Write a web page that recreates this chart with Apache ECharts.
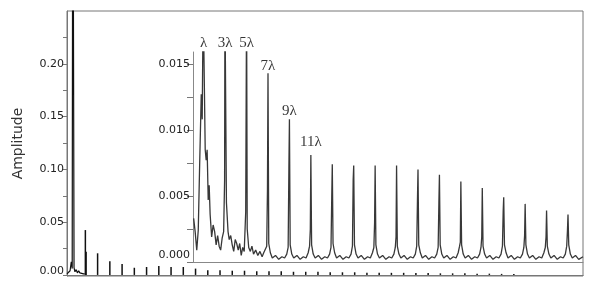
<!DOCTYPE html>
<html><head><meta charset="utf-8">
<script src="https://cdn.jsdelivr.net/npm/echarts@6/dist/echarts.min.js"></script>
<style>html,body{margin:0;padding:0;background:#fff}#c{width:594px;height:294px}</style>
</head><body><div id="c"></div>
<script>
// Main spectrum: x in harmonic order units (multiples of lambda), y amplitude
const mainLow = [[0,0.001],[0.3,0.002],[0.5,0.004],[0.7,0.0125],[0.85,0.006],[0.95,0.5],[1.05,0.5],[1.15,0.007],[1.3,0.003],[1.5,0.005],[1.7,0.002],[1.9,0.004],[2.1,0.002],[2.4,0.001],[2.7,0.001],[2.9,0.001]];
const mainOrders = [3,3.12,5,7,9,11,13,15,17,19,21,23,25,27,29,31,33,35,37,39,41,43,45,47,49,51,53,55,57,59,61,63,65,67,69,71,73];
const mainAmps = [0.0425,0.022,0.0205,0.013,0.0103,0.0068,0.0075,0.0084,0.0075,0.0075,0.006,0.0045,0.0045,0.004,0.004,0.0035,0.0035,0.0035,0.003,0.003,0.003,0.0025,0.0025,0.0025,0.002,0.002,0.002,0.002,0.0018,0.0018,0.0015,0.0015,0.0015,0.0012,0.0012,0.001,0.001];
const mainYLabels = [0,0.05,0.10,0.15,0.20];
const mainYTicks = [0,0.025,0.05,0.075,0.10,0.125,0.15,0.175,0.20,0.225];

// Inset spectrum
const insetA = [[0.06,0.0033],[0.2,0.0023],[0.35,0.0009],[0.49,0.0024],[0.63,0.0077],[0.77,0.0127],[0.86,0.0108],[0.95,0.02],[1.05,0.02],[1.14,0.0085],[1.23,0.0077],[1.32,0.0085],[1.42,0.0047],[1.51,0.0058],[1.6,0.0036],[1.74,0.0019],[1.88,0.0028],[2.02,0.0023],[2.16,0.0013],[2.3,0.002],[2.44,0.0012],[2.58,0.0009],[2.72,0.0018],[2.86,0.0023],[2.95,0.0062],[2.98,0.02],[3.07,0.02],[3.12,0.0045],[3.27,0.0023],[3.38,0.0017],[3.52,0.002],[3.66,0.0013],[3.8,0.0008],[3.94,0.0017],[4.08,0.0014],[4.22,0.0009],[4.36,0.0014],[4.5,0.0005],[4.64,0.0011],[4.78,0.0008],[4.92,0.0038],[5.0,0.02],[5.06,0.0025],[5.2,0.0011],[5.35,0.0008],[5.5,0.0012],[5.65,0.0006],[5.85,0.0009],[6.05,0.0005],[6.25,0.0008],[6.45,0.0004],[6.6,0.0007],[6.75,0.0006],[6.88,0.0012],[6.95,0.0055],[7.0,0.0143],[7.07,0.0014],[7.22,0.0007],[7.4,0.0003],[7.7,0.0005],[8.0,0.0002],[8.3,0.0004]];
const insetB = [[8.55,0.0003],[8.75,0.0006],[8.88,0.0011],[8.95,0.0071],[9.0,0.0108],[9.07,0.0013],[9.22,0.0006],[9.4,0.0003],[9.7,0.0005],[10.0,0.0002],[10.3,0.0004],
[10.55,0.0003],[10.75,0.0007],[10.88,0.0012],[10.95,0.0025],[11.0,0.0081],[11.07,0.0013],[11.22,0.0006],[11.4,0.0003],[11.7,0.0005],[12.0,0.0002],[12.3,0.0004],
[12.55,0.0003],[12.75,0.0006],[12.88,0.0011],[12.95,0.0049],[13.0,0.0074],[13.07,0.0014],[13.22,0.0007],[13.4,0.0003],[13.7,0.0005],[14.0,0.0002],[14.3,0.0004],
[14.55,0.0003],[14.75,0.0006],[14.88,0.0012],[14.95,0.0062],[15.0,0.0073],[15.07,0.0013],[15.22,0.0006],[15.4,0.0003],[15.7,0.0005],[16.0,0.0002],[16.3,0.0004],
[16.55,0.0003],[16.75,0.0007],[16.88,0.0011],[16.95,0.003],[17.0,0.0073],[17.07,0.0013],[17.22,0.0006],[17.4,0.0003],[17.7,0.0005],[18.0,0.0002],[18.3,0.0004],
[18.55,0.0003],[18.75,0.0006],[18.88,0.0011],[18.95,0.0019],[19.0,0.0073],[19.07,0.0012],[19.22,0.0006],[19.4,0.0003],[19.7,0.0005],[20.0,0.0002],[20.3,0.0004],
[20.55,0.0003],[20.75,0.0006],[20.88,0.0012],[20.95,0.0047],[21.0,0.007],[21.07,0.0013],[21.22,0.0007],[21.4,0.0003],[21.7,0.0005],[22.0,0.0002],[22.3,0.0004]];
const insetC = [[22.55,0.0003],[22.75,0.0006],[22.88,0.0011],[22.95,0.0045],[23.0,0.0066],[23.07,0.0013],[23.22,0.0006],[23.4,0.0003],[23.7,0.0005],[24.0,0.0002],[24.3,0.0004],
[24.55,0.0003],[24.75,0.0007],[24.88,0.0012],[24.95,0.0015],[25.0,0.0061],[25.07,0.0013],[25.22,0.0006],[25.4,0.0003],[25.7,0.0005],[26.0,0.0002],[26.3,0.0004],
[26.55,0.0003],[26.75,0.0006],[26.88,0.0011],[26.95,0.0019],[27.0,0.0056],[27.07,0.0012],[27.22,0.0006],[27.4,0.0003],[27.7,0.0005],[28.0,0.0002],[28.3,0.0004],
[28.55,0.0003],[28.75,0.0006],[28.88,0.0012],[28.95,0.0038],[29.0,0.0049],[29.07,0.0013],[29.22,0.0007],[29.4,0.0003],[29.7,0.0005],[30.0,0.0002],[30.3,0.0004],
[30.55,0.0003],[30.75,0.0006],[30.88,0.0011],[30.95,0.002],[31.0,0.0044],[31.07,0.0013],[31.22,0.0006],[31.4,0.0003],[31.7,0.0005],[32.0,0.0002],[32.3,0.0004],
[32.55,0.0003],[32.75,0.0007],[32.88,0.0011],[32.95,0.0019],[33.0,0.0039],[33.07,0.0012],[33.22,0.0006],[33.4,0.0003],[33.7,0.0005],[34.0,0.0002],[34.3,0.0004],
[34.55,0.0003],[34.75,0.0006],[34.88,0.0012],[34.95,0.0024],[35.0,0.0036],[35.07,0.0013],[35.22,0.0006],[35.4,0.0003],[35.7,0.0005],[36.0,0.0002],[36.4,0.0004]];
const insetYLabels = [0,0.005,0.010,0.015];
const insetYTicks = [0,0.0025,0.005,0.0075,0.010,0.0125,0.015];
const harmonicText = ['λ','3λ','5λ','7λ','9λ','11λ'];
const harmonicOrder = [1,3,5,7,9,11];
const harmonicLabelLevel = [0.0166,0.0166,0.0166,0.0148,0.01146,0.00911];

const chart = echarts.init(document.getElementById('c'), null, {renderer:'canvas'});
const tickFont = {fontFamily:'DejaVu Sans', fontSize:11, color:'#222'};
chart.setOption({
  animation:false,
  grid:[
    {left:67, top:11, right:11, bottom:18, show:true, borderColor:'#777', borderWidth:1, backgroundColor:'transparent'},
    {left:193, top:52, right:11, bottom:32, show:false}
  ],
  xAxis:[
    {type:'value', gridIndex:0, min:0, max:84.3, axisLine:{show:true, lineStyle:{color:'#777'}}, axisTick:{show:false}, axisLabel:{show:false}, splitLine:{show:false}},
    {type:'value', gridIndex:1, min:0, max:36.4, axisLine:{show:true, lineStyle:{color:'#888'}}, axisTick:{show:false}, axisLabel:{show:false}, splitLine:{show:false}}
  ],
  yAxis:[
    {type:'value', gridIndex:0, min:-0.001, max:0.25, splitLine:{show:false},
     name:'Amplitude', nameLocation:'middle', nameRotate:90, nameGap:42,
     nameTextStyle:{fontFamily:'DejaVu Sans', fontSize:14, color:'#333'},
     axisLine:{show:true, lineStyle:{color:'#777'}},
     axisTick:{show:true, length:4, customValues:mainYTicks, lineStyle:{color:'#777'}},
     axisLabel:Object.assign({margin:3, customValues:mainYLabels,
       formatter:v=> Math.abs(v)<1e-9 ? '{z|0.00}' : v.toFixed(2),
       rich:{z:{fontFamily:'DejaVu Sans', fontSize:11, color:'#222', padding:[0,0,8,0]}}}, tickFont)},
    {type:'value', gridIndex:1, min:0, max:0.0159, splitLine:{show:false},
     axisLine:{show:true, lineStyle:{color:'#888'}},
     axisTick:{show:true, length:6, customValues:insetYTicks, lineStyle:{color:'#777'}},
     axisLabel:Object.assign({margin:3, customValues:insetYLabels,
       formatter:v=> Math.abs(v)<1e-9 ? '{z|0.000}' : v.toFixed(3),
       rich:{z:{fontFamily:'DejaVu Sans', fontSize:11, color:'#222', padding:[0,0,14,0]}}}, tickFont)}
  ],
  series:[
    {type:'line', xAxisIndex:0, yAxisIndex:0, data:mainLow, symbol:'none', lineStyle:{color:'#111', width:1.2}, clip:true},
    {type:'bar', xAxisIndex:0, yAxisIndex:0, data:mainOrders.map((k,i)=>[k, mainAmps[i]]), barWidth:1.5, itemStyle:{color:'#111'}, clip:true},
    {type:'line', xAxisIndex:1, yAxisIndex:1, data:insetA.concat(insetB, insetC), symbol:'none', lineStyle:{color:'#383838', width:1.3}, clip:true},
    {type:'scatter', xAxisIndex:1, yAxisIndex:1, clip:false, symbolSize:1, itemStyle:{color:'transparent'},
     data:harmonicOrder.map((k,i)=>[k, harmonicLabelLevel[i], harmonicText[i]]),
     label:{show:true, position:'inside', formatter:p=>p.data[2], fontFamily:'Liberation Serif', fontSize:15, color:'#000'}}
  ]
});
</script></body></html>
